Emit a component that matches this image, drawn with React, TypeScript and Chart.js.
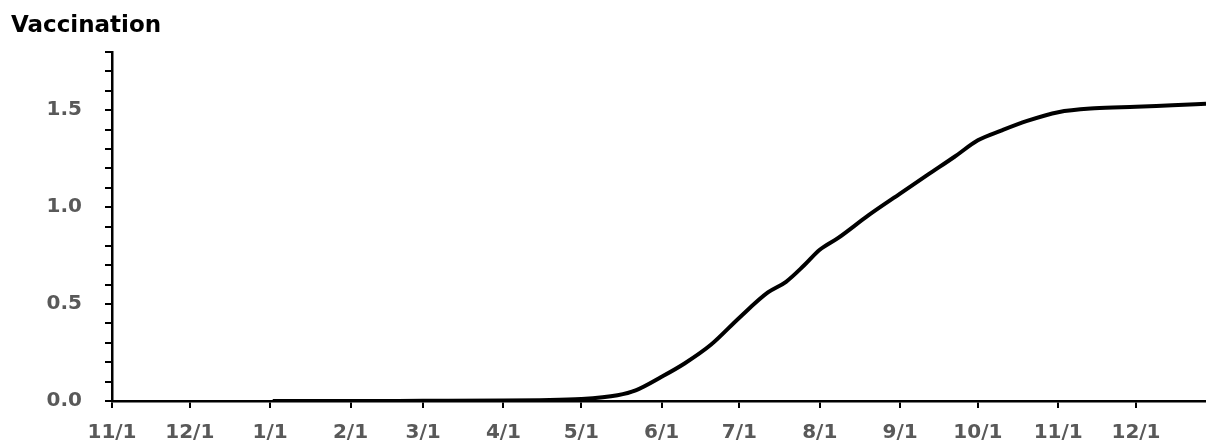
import React, { useEffect, useRef } from "react";
import { Chart, registerables } from "chart.js";

Chart.register(...registerables);

// ---- data ----
const ORIGIN_DATE = "2020-11-01";
const AXIS_END_DATE = "2021-12-28";

const tickDates = [
  "2020-11-01", "2020-12-01", "2021-01-01", "2021-02-01", "2021-03-01", "2021-04-01",
  "2021-05-01", "2021-06-01", "2021-07-01", "2021-08-01", "2021-09-01", "2021-10-01",
  "2021-11-01", "2021-12-01",
];
const tickLabels = [
  "11/1", "12/1", "1/1", "2/1", "3/1", "4/1", "5/1", "6/1", "7/1", "8/1", "9/1", "10/1", "11/1", "12/1",
];

const seriesDates = [
  "2021-01-02", "2021-02-01", "2021-03-01", "2021-04-01", "2021-04-15", "2021-05-01",
  "2021-05-15", "2021-05-22", "2021-06-01", "2021-06-10", "2021-06-20", "2021-07-01",
  "2021-07-12", "2021-07-19", "2021-07-26", "2021-08-01", "2021-08-08", "2021-08-20",
  "2021-09-01", "2021-09-12", "2021-09-22", "2021-10-01", "2021-10-10", "2021-10-20",
  "2021-11-01", "2021-11-15", "2021-12-01", "2021-12-15", "2021-12-28",
];
const seriesValues = [
  0.0, 0.0, 0.001, 0.002, 0.004, 0.01,
  0.03, 0.055, 0.125, 0.195, 0.29, 0.43,
  0.56, 0.615, 0.7, 0.78, 0.84, 0.96,
  1.07, 1.17, 1.26, 1.345, 1.395, 1.445,
  1.49, 1.51, 1.518, 1.526, 1.533,
];

const yMax = 1.8;
const yMinorStep = 0.1;
const yTickLabels = [0.0, 0.5, 1.0, 1.5];

const TITLE = "Vaccination";

// ---- helpers ----
const dayOf = (iso: string) => {
  const [y, m, d] = iso.split("-").map(Number);
  const [oy, om, od] = ORIGIN_DATE.split("-").map(Number);
  return Math.round((Date.UTC(y, m - 1, d) - Date.UTC(oy, om - 1, od)) / 86400000);
};

const FONT = "'DejaVu Sans', Verdana, sans-serif";
const LABEL_COLOR = "#595959";

export default function App() {
  const ref = useRef<HTMLCanvasElement | null>(null);

  useEffect(() => {
    if (!ref.current) return;
    const points = seriesDates.map((d, i) => ({ x: dayOf(d), y: seriesValues[i] }));
    const tickDays = tickDates.map(dayOf);
    const yTicks: number[] = [];
    const nMinor = Math.round(yMax / yMinorStep);
    for (let i = 0; i <= nMinor; i++) yTicks.push(Math.round(i * yMinorStep * 10) / 10);

    const chart = new Chart(ref.current, {
      type: "line",
      data: {
        datasets: [
          {
            data: points,
            borderColor: "#000000",
            borderWidth: 4,
            pointRadius: 0,
            cubicInterpolationMode: "monotone",
            fill: false,
          },
        ],
      },
      options: {
        animation: false,
        responsive: false,
        events: [],
        layout: { padding: { left: 11, right: 0, top: 0, bottom: 0 } },
        plugins: {
          legend: { display: false },
          tooltip: { enabled: false },
          title: {
            display: true,
            text: TITLE,
            align: "start",
            color: "#000000",
            font: { family: FONT, size: 23, weight: "bold" },
            padding: { top: 12, bottom: 12.5 },
          },
        },
        scales: {
          x: {
            type: "linear",
            min: 0,
            max: dayOf(AXIS_END_DATE),
            afterBuildTicks: (s: any) => {
              s.ticks = tickDays.map((v) => ({ value: v }));
            },
            afterFit: (s: any) => {
              s.height = 43;
            },
            ticks: {
              autoSkip: false,
              maxRotation: 0,
              padding: 13,
              color: LABEL_COLOR,
              font: { family: FONT, size: 20, weight: "bold" },
              callback: (v: any) => {
                const idx = tickDays.indexOf(Number(v));
                return idx >= 0 ? tickLabels[idx] : "";
              },
            },
            grid: {
              drawOnChartArea: false,
              drawTicks: true,
              tickLength: 7,
              color: "#000000",
              lineWidth: 2,
            },
            border: { display: true, color: "#000000", width: 2.5 },
          },
          y: {
            type: "linear",
            min: 0,
            max: yMax,
            afterBuildTicks: (s: any) => {
              s.ticks = yTicks.map((v) => ({ value: v }));
            },
            afterFit: (s: any) => {
              s.width = 101;
            },
            ticks: {
              autoSkip: false,
              padding: 23,
              color: LABEL_COLOR,
              font: { family: FONT, size: 20, weight: "bold" },
              callback: (v: any) => {
                const n = Number(v);
                const hit = yTickLabels.find((t) => Math.abs(t - n) < 1e-6);
                return hit !== undefined ? hit.toFixed(1) : "";
              },
            },
            grid: {
              drawOnChartArea: false,
              drawTicks: true,
              tickLength: 7,
              color: "#000000",
              lineWidth: 2,
            },
            border: { display: true, color: "#000000", width: 2.5 },
          },
        },
      },
    });
    return () => chart.destroy();
  }, []);

  return (
    <div style={{ position: "absolute", left: 0, top: 0, width: 1206, height: 444, background: "#ffffff" }}>
      <canvas ref={ref} width={1206} height={444} style={{ display: "block", width: 1206, height: 444 }} />
    </div>
  );
}
